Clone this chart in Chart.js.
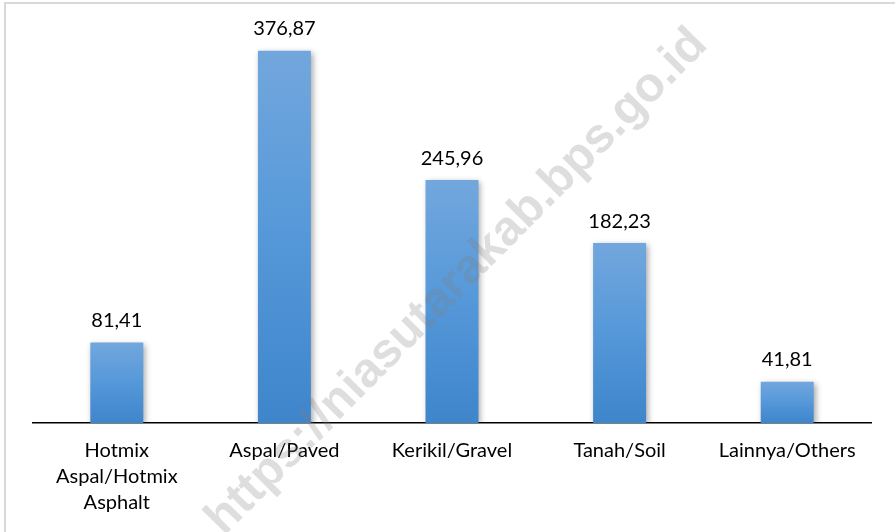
<!DOCTYPE html>
<html>
<head>
<meta charset="utf-8">
<script src="https://cdn.jsdelivr.net/npm/chart.js@4.4.1/dist/chart.umd.min.js"></script>
<style>
  html, body { margin: 0; padding: 0; background: #fff; }
  #wrap { position: relative; width: 895px; height: 532px; }
</style>
</head>
<body>
<div id="wrap"><canvas id="roadChart" width="895" height="532"></canvas></div>
<script>
'use strict';

// data
const categories = [['Hotmix', 'Aspal/Hotmix', 'Asphalt'], 'Aspal/Paved', 'Kerikil/Gravel', 'Tanah/Soil', 'Lainnya/Others'];
const roadLength = [81.41, 376.87, 245.96, 182.23, 41.81];
const valueLabels = ['81,41', '376,87', '245,96', '182,23', '41,81'];
const watermarkText = 'https://niasutarakab.bps.go.id';

const FONT = 'Lato, "Open Sans", sans-serif';

// gradient per bar: light at top, darker at base
function barGradient(ctx) {
  const chart = ctx.chart;
  if (!chart.chartArea || ctx.dataIndex === undefined) return '#5b9bd5';
  const y = chart.scales.y;
  const top = y.getPixelForValue(roadLength[ctx.dataIndex]);
  const base = y.getPixelForValue(0);
  const g = chart.ctx.createLinearGradient(0, top, 0, base);
  g.addColorStop(0, '#72a7dd');
  g.addColorStop(0.5, '#5598d9');
  g.addColorStop(1, '#3e85cb');
  return g;
}

const decor = {
  id: 'decor',
  beforeDraw(chart) {
    // white card with light grey frame
    const c = chart.ctx;
    c.save();
    c.fillStyle = '#fff';
    c.fillRect(0, 0, chart.width, chart.height);
    c.strokeStyle = '#d9d9d9';
    c.lineWidth = 2;
    c.strokeRect(5, 3, chart.width + 10, chart.height + 10);
    c.restore();
  },
  beforeDatasetsDraw(chart) {
    // soft shadow for bars
    const c = chart.ctx;
    c.save();
    c.shadowColor = 'rgba(0,0,0,0.35)';
    c.shadowBlur = 6;
    c.shadowOffsetX = 2;
    c.shadowOffsetY = 2;
  },
  afterDatasetsDraw(chart) {
    const c = chart.ctx;
    c.restore();
    // value labels above bars
    const meta = chart.getDatasetMeta(0);
    c.save();
    c.font = '20px ' + FONT;
    c.fillStyle = '#000';
    c.textAlign = 'center';
    c.textBaseline = 'middle';
    meta.data.forEach((bar, i) => {
      c.fillText(valueLabels[i], bar.x, bar.y - 22);
    });
    c.restore();
  },
  afterDraw(chart) {
    // translucent diagonal watermark over everything
    const c = chart.ctx;
    c.save();
    c.translate(457, 282);
    c.rotate(-45.3 * Math.PI / 180);
    c.font = 'bold 44px "Liberation Sans", Arial, sans-serif';
    const w = c.measureText(watermarkText).width;
    const size = 44 * 690 / w;
    c.font = 'bold ' + size.toFixed(1) + 'px "Liberation Sans", Arial, sans-serif';
    c.fillStyle = 'rgba(128,128,128,0.26)';
    c.textAlign = 'center';
    c.textBaseline = 'middle';
    c.fillText(watermarkText, 0, 0);
    c.restore();
  }
};

new Chart(document.getElementById('roadChart'), {
  type: 'bar',
  data: {
    labels: categories,
    datasets: [{
      data: roadLength,
      backgroundColor: barGradient,
      borderWidth: 0,
      categoryPercentage: 1,
      barPercentage: 0.316
    }]
  },
  options: {
    responsive: false,
    animation: false,
    devicePixelRatio: 1,
    layout: { padding: { left: 33, right: 24, top: 28, bottom: 0 } },
    plugins: { legend: { display: false }, tooltip: { enabled: false } },
    scales: {
      x: {
        grid: { display: false, drawTicks: false },
        border: { display: true, color: '#000', width: 1.5 },
        ticks: {
          color: '#000',
          font: { family: FONT, size: 20, lineHeight: 1.3 },
          padding: 15,
          maxRotation: 0,
          autoSkip: false
        },
        afterFit(scale) { scale.height = 109; }
      },
      y: {
        display: false,
        min: 0,
        max: 400
      }
    }
  },
  plugins: [decor]
});
</script>
</body>
</html>
